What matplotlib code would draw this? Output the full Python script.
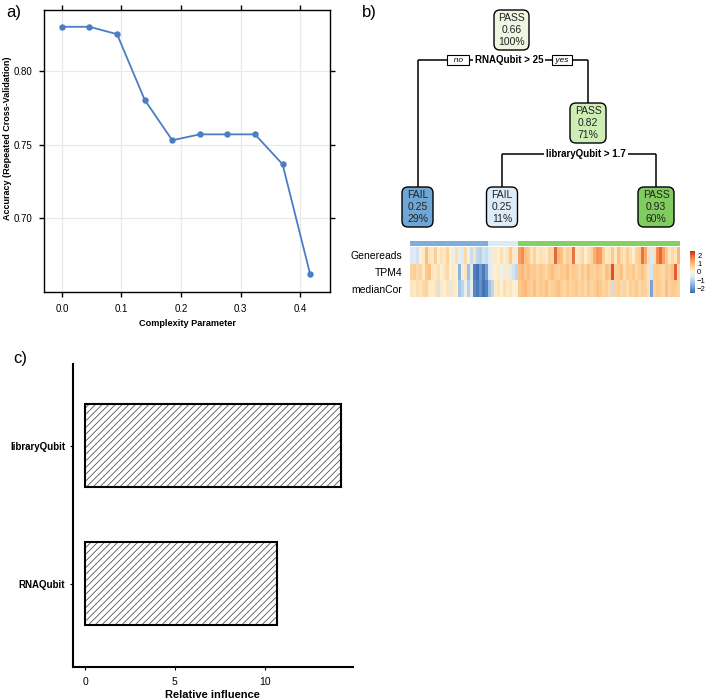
import numpy as np
import matplotlib
matplotlib.use("Agg")
import matplotlib.pyplot as plt
from matplotlib.patches import FancyBboxPatch
from matplotlib.colors import LinearSegmentedColormap, ListedColormap

plt.rcParams['font.family'] = ['Liberation Sans', 'DejaVu Sans']
plt.rcParams['hatch.linewidth'] = 0.6

# a) caret tuning curve
cp = [0.0, 0.0463, 0.0926, 0.1389, 0.1852, 0.2315, 0.2778, 0.3241, 0.3704, 0.4167]
accuracy = [0.830, 0.830, 0.825, 0.7805, 0.753, 0.757, 0.757, 0.757, 0.7367, 0.662]

# b) rpart tree nodes
node_class = ['PASS', 'PASS', 'FAIL', 'FAIL', 'PASS']
node_prob = [0.66, 0.82, 0.25, 0.25, 0.93]
node_pct = [100, 71, 29, 11, 60]
split_text = ['RNAQubit > 25', 'libraryQubit > 1.7']

# heatmap under the tree, samples grouped by leaf
leaf_n = [26, 10, 54]
row_names = ['Genereads', 'TPM4', 'medianCor']
genereads = [-0.6, -0.5, -0.7, 0.1, 0.2, 0.9, 0.3, 0.2, 0.7, 0.1, 0.3, 0.2, 0.6, 0.1, -0.3, 0.4,
             -0.4, -0.6, 0.5, -0.2, -0.8, 0.3, -0.9, -1.0, -0.7, -0.8,
             -0.5, -0.3, 0.2, 0.1, 0.4, -0.2, 0.3, 0.8, 0.2, -0.4,
             1.3, 1.6, 0.9, 0.8, 0.3, 0.6, 0.2, 0.4, 0.3, 0.2, 0.6, 0.5, 1.9, 1.0, 0.9, 0.4, 0.7, 0.5,
             1.8, 0.2, 0.3, 0.5, 0.1, 0.4, 0.6, 1.1, 1.5, 1.4, 0.7, 0.2, 0.3, 0.8, 0.2, 0.9, 0.5, 0.3,
             0.7, 0.4, 0.1, 0.6, 0.8, 1.8, 1.2, 0.4, -0.6, 0.4, 1.6, 1.9, 1.3, 0.8, 0.2, 0.5, 0.3, 1.0]
tpm4 = [0.6, 0.7, 0.5, 0.6, 0.2, 0.8, 0.9, 0.3, 0.2, 0.4, 0.1, 0.3, 0.5, -0.2, 0.2, 0.1,
        -1.5, -0.3, 0.3, -1.3, -0.5, -2.2, -2.4, -1.9, -2.3, -1.8,
        -0.6, -0.3, 0.1, 0.2, -0.2, -0.4, 0.2, -0.5, -0.7, -0.9,
        0.9, 1.0, 0.8, 0.9, 0.7, 0.8, 0.6, 0.8, 0.7, 0.5, 0.8, 0.9, 0.7, 0.6, 0.8, 0.7, 0.9, 0.6,
        0.8, 0.7, 0.5, 0.8, 0.6, 0.9, 0.7, 0.6, 0.8, 0.7, 0.5, 0.9, 0.8, 2.1, 0.6, 0.7, 0.9, 0.4,
        0.7, 0.6, 0.8, 0.5, 0.7, 0.9, 0.6, 0.3, -0.7, 0.7, 0.8, 0.6, 0.5, 0.8, 0.7, 0.9, 2.0, 0.6]
median_cor = [0.3, 0.2, 0.4, 0.3, 0.5, 0.6, 0.2, 0.1, 0.3, -0.7, 0.2, 0.1, 0.3, -0.6, 0.2, 0.1,
              -1.2, -0.9, -0.3, -1.0, -0.4, -2.1, -2.3, -2.0, -2.4, -2.2,
              -1.3, -0.9, 0.2, 0.3, 0.1, 0.4, 0.2, 0.3, 0.1, -0.2,
              0.8, 0.9, 1.0, 0.8, 0.7, 0.9, 0.6, 0.8, 0.7, 0.9, 0.6, 0.7, 0.8, 0.9, 0.7, 0.5, 0.8, 0.6,
              0.7, 0.8, 0.6, 0.7, 0.5, 0.8, 0.6, 0.7, 0.9, 0.8, 0.6, 0.7, 0.5, -0.8, 0.6, 0.7, 0.5, 0.6,
              0.4, 0.7, 0.6, 0.8, 0.5, 0.7, 0.6, 0.4, -1.7, 0.6, 0.8, 0.7, 0.5, 0.9, 0.6, 0.8, 0.7, 0.6]

# c) gbm relative influence
features = ['RNAQubit', 'libraryQubit']
influence = [10.67, 14.24]

W, H = 710, 700
fig = plt.figure(figsize=(7.1, 7.0), dpi=100)


def px_axes(l, t, r, b):
    # axes placed by pixel box (top-left origin)
    return fig.add_axes([l / W, 1 - b / H, (r - l) / W, (b - t) / H])


# ---------------- panel a
ax = px_axes(44, 10, 330, 292)
ax.plot(cp, accuracy, '-o', color='#4a7ec2', lw=1.3, ms=3.6)
ax.set_xlim(-0.030, 0.450)
ax.set_ylim(0.650, 0.8414)
ax.set_xticks([0.0, 0.1, 0.2, 0.3, 0.4])
ax.set_yticks([0.70, 0.75, 0.80])
ax.set_yticklabels(['0.70', '0.75', '0.80'])
ax.tick_params(direction='out', top=True, right=True, length=3.5, width=1,
               labelsize=7, pad=5)
ax.grid(color='#e9e9e9', lw=0.9)
ax.set_axisbelow(True)
for sp in ax.spines.values():
    sp.set_linewidth(1.0)
ax.set_xlabel('Complexity Parameter', fontweight='bold', fontsize=6.6, labelpad=4)
ax.set_ylabel('Accuracy (Repeated Cross-Validation)', fontweight='bold', fontsize=6.5)
ax.yaxis.set_label_coords(-0.112, 0.545)
fig.text(6 / W, 1 - 13 / H, 'a)', fontsize=12, va='center')

# ---------------- panel b: tree
tb = px_axes(370, 0, 710, 235)
tb.set_xlim(370, 710)
tb.set_ylim(235, 0)
tb.axis('off')
fig.text(362 / W, 1 - 13 / H, 'b)', fontsize=12, va='center')

node_colors = ['#eef6e2', '#cdeeb4', '#6ea6d6', '#dcecf8', '#80cc5c']
# layout: centre x, top y, width
node_box = [(511.5, 10, 35), (588, 103, 36), (417.5, 187, 31), (502, 187, 31), (656, 187, 36)]
for i in range(len(node_class)):
    cx, top, w = node_box[i]
    tb.add_patch(FancyBboxPatch((cx - w / 2, top), w, 40,
                                boxstyle='round,pad=0,rounding_size=6',
                                fc=node_colors[i], ec='black', lw=1.0))
    tb.text(cx, top + 20, '%s\n%.2f\n%d%%' % (node_class[i], node_prob[i], node_pct[i]),
            ha='center', va='center', fontsize=7.5, linespacing=1.25, color='#222222')

lc = dict(color='black', lw=1.1, solid_capstyle='butt')
# root split
tb.plot([417.5, 588], [60, 60], **lc)
tb.plot([417.5, 417.5], [60, 187], **lc)
tb.plot([588, 588], [60, 103], **lc)
tb.text(509, 60, split_text[0], ha='center', va='center', fontsize=7, fontweight='bold',
        bbox=dict(fc='white', ec='none', pad=1.5))
tb.text(458, 60, '  no  ', ha='center', va='center', fontsize=6, style='italic',
        bbox=dict(fc='white', ec='black', lw=0.8, boxstyle='square,pad=0.15'), zorder=5)
tb.text(562, 60, ' yes ', ha='center', va='center', fontsize=6, style='italic',
        bbox=dict(fc='white', ec='black', lw=0.8, boxstyle='square,pad=0.15'), zorder=5)
# second split
tb.plot([502, 656], [154, 154], **lc)
tb.plot([502, 502], [154, 187], **lc)
tb.plot([656, 656], [154, 187], **lc)
tb.text(586, 154, split_text[1], ha='center', va='center', fontsize=7, fontweight='bold',
        bbox=dict(fc='white', ec='none', pad=1.5))

# heatmap
leaf_colors = ['#7eaed9', '#dbeaf7', '#86d05f']
groups = np.repeat(np.arange(len(leaf_n)), leaf_n)
ab = px_axes(410, 240.5, 680, 245.5)
ab.imshow(groups[None, :], aspect='auto', cmap=ListedColormap(leaf_colors),
          vmin=-0.5, vmax=2.5, interpolation='nearest')
ab.axis('off')

hm_cmap = LinearSegmentedColormap.from_list('hm', [
    (0.0, '#3c6db3'), (0.2, '#8db4dc'), (0.38, '#dbeaf5'), (0.5, '#fdf6da'),
    (0.66, '#fdc98c'), (0.82, '#f58b4f'), (1.0, '#c9281c')])
ah = px_axes(410, 247, 680, 297)
mat = np.array([genereads, tpm4, median_cor])
im = ah.imshow(mat, aspect='auto', cmap=hm_cmap, vmin=-2.5, vmax=2.5, interpolation='nearest')
ah.set_xticks([])
ah.set_yticks(range(len(row_names)))
ah.set_yticklabels(row_names, fontsize=7.5)
ah.tick_params(left=False, pad=2)
for sp in ah.spines.values():
    sp.set_visible(False)

cax = px_axes(690, 251, 695, 293)
cb = fig.colorbar(im, cax=cax, ticks=[-2, -1, 0, 1, 2])
cb.outline.set_visible(False)
cb.ax.tick_params(labelsize=5.5, length=0, pad=1.5)

# ---------------- panel c
axc = px_axes(72.7, 364, 352.7, 666.7)
ypos = np.arange(1, len(features) + 1)
axc.barh(ypos, influence, height=0.6, color='white', edgecolor='#555555', hatch='/////', lw=0)
axc.barh(ypos, influence, height=0.6, fill=False, edgecolor='black', lw=1.5)
axc.set_xlim(-0.70, 14.91)
axc.set_ylim(0.40, 2.59)
axc.set_yticks(ypos)
axc.set_yticklabels(features, fontsize=7, fontweight='bold')
axc.set_xticks([0, 5, 10])
axc.tick_params(axis='x', labelsize=7.5, length=2.5, pad=5)
axc.tick_params(axis='y', length=2.5, pad=3)
axc.spines['top'].set_visible(False)
axc.spines['right'].set_visible(False)
axc.spines['left'].set_linewidth(1.5)
axc.spines['bottom'].set_linewidth(1.5)
axc.set_xlabel('Relative influence', fontweight='bold', fontsize=8, labelpad=2)
fig.text(13 / W, 1 - 358 / H, 'c)', fontsize=12, va='center')

fig.savefig('out.png', dpi=100)
